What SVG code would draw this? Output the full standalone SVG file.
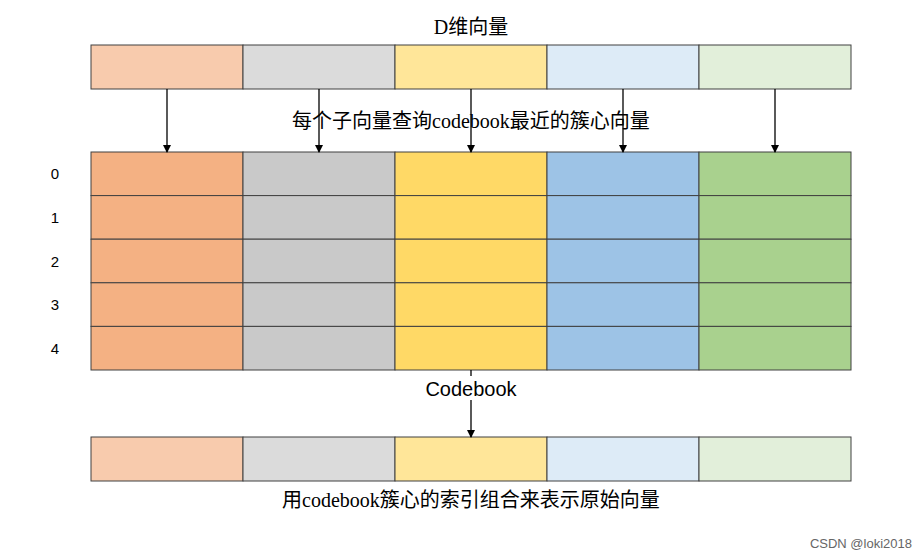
<svg xmlns="http://www.w3.org/2000/svg" width="924" height="558" viewBox="0 0 924 558">
<defs>
<marker id="ah" markerWidth="8" markerHeight="8" refX="7" refY="4" orient="auto" markerUnits="userSpaceOnUse"><path d="M0,0 L8,4 L0,8 z" fill="#000"/></marker>
<style>
rect{stroke:#404040;stroke-width:1}
.t{font-family:"Liberation Serif","Noto Sans CJK SC",serif;font-size:20px;fill:#000;text-anchor:middle}
.n{font-family:"Liberation Sans",sans-serif;font-size:15px;fill:#000;text-anchor:middle}
.c{font-family:"Liberation Sans",sans-serif;font-size:20px;fill:#000;text-anchor:middle}
.w{font-family:"Liberation Sans",sans-serif;font-size:13px;fill:#666;text-anchor:end}
line{stroke:#000;stroke-width:1.3}
</style>
</defs>
<rect x="0" y="0" width="924" height="558" fill="#fff" style="stroke:none"/>
<text class="t" x="471" y="34">D维向量</text>
<g id="top">
<rect x="91" y="45" width="152" height="44" fill="#F8CBAD"/>
<rect x="243" y="45" width="152" height="44" fill="#DBDBDB"/>
<rect x="395" y="45" width="152" height="44" fill="#FFE699"/>
<rect x="547" y="45" width="152" height="44" fill="#DDEBF7"/>
<rect x="699" y="45" width="152" height="44" fill="#E2EFDA"/>
</g>
<g id="codebook">
<g id="col0" fill="#F4B183"><rect x="91" y="152" width="152" height="43.6"/><rect x="91" y="195.6" width="152" height="43.6"/><rect x="91" y="239.2" width="152" height="43.6"/><rect x="91" y="282.8" width="152" height="43.6"/><rect x="91" y="326.4" width="152" height="43.6"/></g>
<g id="col1" fill="#C9C9C9"><rect x="243" y="152" width="152" height="43.6"/><rect x="243" y="195.6" width="152" height="43.6"/><rect x="243" y="239.2" width="152" height="43.6"/><rect x="243" y="282.8" width="152" height="43.6"/><rect x="243" y="326.4" width="152" height="43.6"/></g>
<g id="col2" fill="#FFD966"><rect x="395" y="152" width="152" height="43.6"/><rect x="395" y="195.6" width="152" height="43.6"/><rect x="395" y="239.2" width="152" height="43.6"/><rect x="395" y="282.8" width="152" height="43.6"/><rect x="395" y="326.4" width="152" height="43.6"/></g>
<g id="col3" fill="#9DC3E6"><rect x="547" y="152" width="152" height="43.6"/><rect x="547" y="195.6" width="152" height="43.6"/><rect x="547" y="239.2" width="152" height="43.6"/><rect x="547" y="282.8" width="152" height="43.6"/><rect x="547" y="326.4" width="152" height="43.6"/></g>
<g id="col4" fill="#A9D18E"><rect x="699" y="152" width="152" height="43.6"/><rect x="699" y="195.6" width="152" height="43.6"/><rect x="699" y="239.2" width="152" height="43.6"/><rect x="699" y="282.8" width="152" height="43.6"/><rect x="699" y="326.4" width="152" height="43.6"/></g>
</g>
<text class="n" x="55" y="179">0</text>
<text class="n" x="55" y="223">1</text>
<text class="n" x="55" y="267">2</text>
<text class="n" x="55" y="310">3</text>
<text class="n" x="55" y="354">4</text>
<g id="bottom">
<rect x="91" y="437" width="152" height="44" fill="#F8CBAD"/>
<rect x="243" y="437" width="152" height="44" fill="#DBDBDB"/>
<rect x="395" y="437" width="152" height="44" fill="#FFE699"/>
<rect x="547" y="437" width="152" height="44" fill="#DDEBF7"/>
<rect x="699" y="437" width="152" height="44" fill="#E2EFDA"/>
</g>
<g id="connectors">
<line x1="167" y1="89" x2="167" y2="152" marker-end="url(#ah)"/>
<line x1="319" y1="89" x2="319" y2="152" marker-end="url(#ah)"/>
<line x1="471" y1="89" x2="471" y2="152" marker-end="url(#ah)"/>
<line x1="623" y1="89" x2="623" y2="152" marker-end="url(#ah)"/>
<line x1="775" y1="89" x2="775" y2="152" marker-end="url(#ah)"/>
<line x1="471" y1="370" x2="471" y2="437" marker-end="url(#ah)"/>
</g>
<text class="t" x="471" y="128">每个子向量查询codebook最近的簇心向量</text>
<rect x="420" y="376" width="102" height="24" fill="#fff" style="stroke:none"/>
<text class="c" x="471" y="396">Codebook</text>
<text class="t" x="471" y="507">用codebook簇心的索引组合来表示原始向量</text>
<text class="w" x="912" y="548">CSDN @loki2018</text>
</svg>
